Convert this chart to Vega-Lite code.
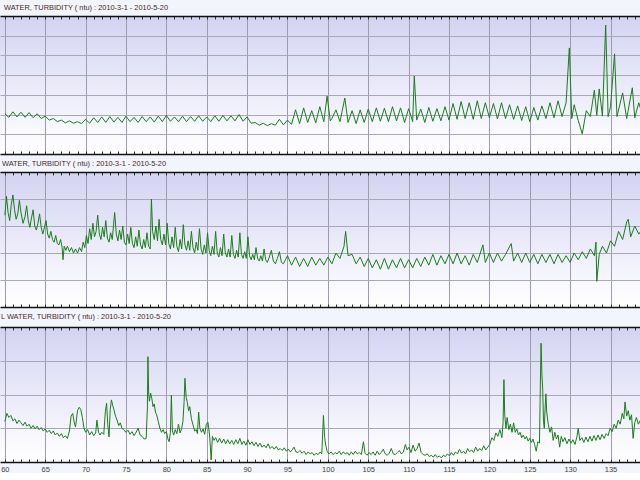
{
  "$schema": "https://vega.github.io/schema/vega-lite/v6.json",
  "background": "#f2f5fb",
  "padding": {"top": 4, "left": 0, "right": 0, "bottom": 0},
  "spacing": 5,
  "datasets": {
    "p1": [
      {"d":60,"v":1.02},{"d":60.5,"v":0.93},{"d":61,"v":1.07},{"d":61.5,"v":0.94},{"d":62,"v":1.06},{"d":62.5,"v":0.93},{"d":63,"v":1.05},{"d":63.5,"v":0.92},{"d":64,"v":1.02},{"d":64.5,"v":0.9},
      {"d":65,"v":0.96},{"d":65.5,"v":0.86},{"d":66,"v":0.9},{"d":66.5,"v":0.82},{"d":67,"v":0.86},{"d":67.5,"v":0.79},{"d":68,"v":0.84},{"d":68.5,"v":0.78},{"d":69,"v":0.82},{"d":69.5,"v":0.77},
      {"d":70,"v":0.88},{"d":70.5,"v":0.78},{"d":71,"v":0.92},{"d":71.5,"v":0.8},{"d":72,"v":0.94},{"d":72.5,"v":0.8},{"d":73,"v":0.95},{"d":73.5,"v":0.81},{"d":74,"v":0.93},{"d":74.5,"v":0.8},
      {"d":75,"v":0.96},{"d":75.5,"v":0.82},{"d":76,"v":0.93},{"d":76.5,"v":0.8},{"d":77,"v":0.95},{"d":77.5,"v":0.82},{"d":78,"v":0.94},{"d":78.5,"v":0.81},{"d":79,"v":0.96},{"d":79.5,"v":0.82},
      {"d":80,"v":0.98},{"d":80.5,"v":0.83},{"d":81,"v":0.94},{"d":81.5,"v":0.82},{"d":82,"v":0.96},{"d":82.5,"v":0.82},{"d":83,"v":0.95},{"d":83.5,"v":0.83},{"d":84,"v":0.97},{"d":84.5,"v":0.83},
      {"d":85,"v":0.94},{"d":85.5,"v":0.82},{"d":86,"v":0.97},{"d":86.5,"v":0.83},{"d":87,"v":0.98},{"d":87.5,"v":0.84},{"d":88,"v":0.97},{"d":88.5,"v":0.84},{"d":89,"v":1.0},{"d":89.5,"v":0.83},
      {"d":90,"v":0.94},{"d":90.5,"v":0.78},{"d":91,"v":0.8},{"d":91.5,"v":0.73},{"d":92,"v":0.78},{"d":92.5,"v":0.72},{"d":93,"v":0.77},{"d":93.5,"v":0.73},{"d":94,"v":0.88},{"d":94.5,"v":0.74},
      {"d":95,"v":0.86},{"d":95.5,"v":0.75},{"d":96,"v":1.12},{"d":96.5,"v":0.77},{"d":97,"v":1.17},{"d":97.5,"v":0.8},{"d":98,"v":1.1},{"d":98.5,"v":0.79},{"d":99,"v":1.2},{"d":99.5,"v":0.82},
      {"d":99.9,"v":1.47},{"d":100.3,"v":0.84},{"d":100.5,"v":0.9},{"d":101,"v":1.12},{"d":101.5,"v":0.82},{"d":102.1,"v":1.42},{"d":102.5,"v":0.8},{"d":103,"v":1.1},{"d":103.5,"v":0.77},{"d":104,"v":1.12},
      {"d":104.5,"v":0.8},{"d":105,"v":1.14},{"d":105.5,"v":0.82},{"d":106,"v":1.17},{"d":106.5,"v":0.83},{"d":107,"v":1.16},{"d":107.5,"v":0.82},{"d":108,"v":1.2},{"d":108.5,"v":0.84},{"d":109,"v":1.17},
      {"d":109.5,"v":0.8},{"d":110,"v":1.15},{"d":110.5,"v":0.82},{"d":110.7,"v":1.98},{"d":111,"v":0.86},{"d":111.5,"v":1.14},{"d":112,"v":0.8},{"d":112.5,"v":1.18},{"d":113,"v":0.83},{"d":113.5,"v":1.15},
      {"d":114,"v":0.84},{"d":114.5,"v":1.2},{"d":115,"v":0.86},{"d":115.5,"v":1.28},{"d":116,"v":0.88},{"d":116.5,"v":1.33},{"d":117,"v":0.9},{"d":117.5,"v":1.3},{"d":118,"v":0.88},{"d":118.5,"v":1.35},
      {"d":119,"v":0.9},{"d":119.5,"v":1.3},{"d":120,"v":0.92},{"d":120.5,"v":1.28},{"d":121,"v":0.89},{"d":121.5,"v":1.3},{"d":122,"v":0.9},{"d":122.5,"v":1.25},{"d":123,"v":0.88},{"d":123.5,"v":1.22},
      {"d":124,"v":0.85},{"d":124.5,"v":1.2},{"d":125,"v":0.82},{"d":125.5,"v":1.18},{"d":126,"v":0.86},{"d":126.5,"v":1.22},{"d":127,"v":0.9},{"d":127.5,"v":1.3},{"d":128,"v":0.92},{"d":128.5,"v":1.35},
      {"d":129,"v":0.95},{"d":129.5,"v":1.3},{"d":129.9,"v":2.69},{"d":130.2,"v":0.9},{"d":130.5,"v":1.25},{"d":131,"v":0.85},{"d":131.5,"v":0.51},{"d":132,"v":1.1},{"d":132.5,"v":0.95},{"d":133,"v":1.62},
      {"d":133.3,"v":0.98},{"d":133.6,"v":1.65},{"d":134,"v":0.96},{"d":134.4,"v":3.27},{"d":134.7,"v":0.95},{"d":135,"v":1.2},{"d":135.5,"v":2.54},{"d":135.8,"v":0.95},{"d":136.5,"v":1.55},{"d":137,"v":0.9},
      {"d":137.7,"v":1.68},{"d":138,"v":0.92},{"d":138.5,"v":1.3},{"d":139,"v":0.95}
    ],
    "p2": [
      {"d":60,"v":6.8},{"d":60.2,"v":8.2},{"d":60.4,"v":7.0},{"d":60.6,"v":6.4},{"d":60.8,"v":7.6},{"d":61,"v":8.3},{"d":61.2,"v":7.2},{"d":61.4,"v":6.5},{"d":61.6,"v":6.9},{"d":61.8,"v":7.9},
      {"d":62,"v":7.0},{"d":62.25,"v":6.2},{"d":62.5,"v":6.7},{"d":62.7,"v":7.5},{"d":62.9,"v":6.4},{"d":63.1,"v":5.9},{"d":63.3,"v":6.6},{"d":63.5,"v":7.2},{"d":63.7,"v":6.0},{"d":63.9,"v":5.7},
      {"d":64.1,"v":6.2},{"d":64.3,"v":6.9},{"d":64.5,"v":5.9},{"d":64.7,"v":5.4},{"d":64.9,"v":5.9},{"d":65.1,"v":6.4},{"d":65.3,"v":5.4},{"d":65.5,"v":5.1},{"d":65.7,"v":5.6},{"d":65.9,"v":5.0},
      {"d":66.1,"v":4.8},{"d":66.3,"v":5.3},{"d":66.5,"v":4.7},{"d":66.7,"v":4.6},{"d":66.9,"v":5.0},{"d":67.1,"v":4.4},{"d":67.2,"v":3.5},{"d":67.35,"v":4.5},{"d":67.55,"v":4.2},{"d":67.75,"v":4.5},
      {"d":68,"v":4.1},{"d":68.25,"v":4.4},{"d":68.5,"v":4.0},{"d":68.75,"v":4.3},{"d":69,"v":4.0},{"d":69.25,"v":4.4},{"d":69.5,"v":4.1},{"d":69.7,"v":4.8},{"d":69.9,"v":4.4},{"d":70.1,"v":5.3},
      {"d":70.3,"v":4.7},{"d":70.5,"v":5.8},{"d":70.7,"v":5.0},{"d":70.9,"v":6.2},{"d":71.1,"v":5.2},{"d":71.3,"v":5.6},{"d":71.5,"v":6.8},{"d":71.7,"v":5.4},{"d":71.9,"v":5.0},{"d":72.1,"v":5.9},
      {"d":72.3,"v":5.2},{"d":72.5,"v":6.4},{"d":72.7,"v":5.1},{"d":72.9,"v":4.8},{"d":73.1,"v":5.5},{"d":73.3,"v":5.0},{"d":73.6,"v":7.0},{"d":73.8,"v":5.4},{"d":74,"v":4.9},{"d":74.2,"v":5.7},
      {"d":74.4,"v":5.0},{"d":74.6,"v":6.0},{"d":74.8,"v":4.8},{"d":75,"v":4.6},{"d":75.2,"v":5.4},{"d":75.4,"v":4.7},{"d":75.6,"v":5.9},{"d":75.8,"v":4.7},{"d":76,"v":4.4},{"d":76.2,"v":5.2},
      {"d":76.4,"v":4.5},{"d":76.6,"v":5.7},{"d":76.8,"v":4.6},{"d":77,"v":4.3},{"d":77.2,"v":5.0},{"d":77.4,"v":4.4},{"d":77.6,"v":5.5},{"d":77.8,"v":4.5},{"d":78,"v":4.3},{"d":78.15,"v":8.0},
      {"d":78.3,"v":5.6},{"d":78.5,"v":5.0},{"d":78.7,"v":6.0},{"d":78.9,"v":4.9},{"d":79.1,"v":6.5},{"d":79.3,"v":5.0},{"d":79.5,"v":4.6},{"d":79.7,"v":5.4},{"d":79.9,"v":4.6},{"d":80.1,"v":6.2},
      {"d":80.3,"v":4.7},{"d":80.5,"v":4.3},{"d":80.7,"v":5.2},{"d":80.9,"v":4.4},{"d":81.1,"v":5.9},{"d":81.3,"v":4.5},{"d":81.5,"v":4.1},{"d":81.7,"v":5.0},{"d":81.9,"v":4.3},{"d":82.1,"v":6.1},
      {"d":82.3,"v":4.6},{"d":82.5,"v":4.2},{"d":82.7,"v":4.9},{"d":82.9,"v":4.2},{"d":83.1,"v":5.6},{"d":83.3,"v":4.4},{"d":83.5,"v":4.0},{"d":83.7,"v":4.8},{"d":83.9,"v":4.2},{"d":84.1,"v":5.8},
      {"d":84.3,"v":4.3},{"d":84.5,"v":3.9},{"d":84.7,"v":4.6},{"d":84.9,"v":4.0},{"d":85.1,"v":5.5},{"d":85.3,"v":4.2},{"d":85.5,"v":3.8},{"d":85.7,"v":4.5},{"d":85.9,"v":3.9},{"d":86.1,"v":5.6},
      {"d":86.3,"v":4.0},{"d":86.5,"v":3.7},{"d":86.7,"v":4.4},{"d":86.9,"v":3.8},{"d":87.1,"v":5.4},{"d":87.3,"v":4.0},{"d":87.5,"v":3.7},{"d":87.7,"v":4.3},{"d":87.9,"v":3.7},{"d":88.1,"v":5.3},
      {"d":88.3,"v":3.9},{"d":88.5,"v":3.6},{"d":88.7,"v":4.2},{"d":88.9,"v":3.7},{"d":89.1,"v":5.5},{"d":89.3,"v":3.9},{"d":89.5,"v":3.6},{"d":89.7,"v":4.1},{"d":89.9,"v":3.6},{"d":90.1,"v":5.2},
      {"d":90.3,"v":3.8},{"d":90.5,"v":3.5},{"d":90.7,"v":3.9},{"d":90.9,"v":3.5},{"d":91.1,"v":4.4},{"d":91.3,"v":3.6},{"d":91.5,"v":3.4},{"d":91.7,"v":3.8},{"d":91.9,"v":3.4},{"d":92.1,"v":4.3},
      {"d":92.3,"v":3.5},{"d":92.5,"v":3.3},{"d":92.75,"v":3.7},{"d":93,"v":4.2},{"d":93.25,"v":3.4},{"d":93.5,"v":3.2},{"d":93.75,"v":3.6},{"d":94,"v":4.1},{"d":94.25,"v":3.3},{"d":94.5,"v":3.2},
      {"d":94.75,"v":3.5},{"d":95,"v":3.8},{"d":95.5,"v":3.1},{"d":96,"v":3.7},{"d":96.5,"v":3.0},{"d":97,"v":3.6},{"d":97.5,"v":3.0},{"d":98,"v":3.7},
      {"d":98.5,"v":3.1},{"d":99,"v":3.6},{"d":99.5,"v":3.1},{"d":100,"v":3.7},{"d":100.5,"v":3.2},{"d":101,"v":4.0},{"d":101.5,"v":3.6},{"d":102,"v":4.5},{"d":102.2,"v":5.6},{"d":102.5,"v":3.8},
      {"d":103,"v":3.9},{"d":103.5,"v":3.2},{"d":104,"v":3.7},{"d":104.5,"v":3.0},{"d":105,"v":3.6},{"d":105.5,"v":2.9},{"d":106,"v":3.5},{"d":106.5,"v":2.8},{"d":107,"v":3.6},{"d":107.5,"v":2.8},
      {"d":108,"v":3.5},{"d":108.5,"v":2.9},{"d":109,"v":3.6},{"d":109.5,"v":2.9},{"d":110,"v":3.5},{"d":110.5,"v":2.9},{"d":111,"v":3.6},{"d":111.5,"v":3.0},{"d":112,"v":3.7},{"d":112.5,"v":3.1},
      {"d":113,"v":3.9},{"d":113.5,"v":3.1},{"d":114,"v":3.8},{"d":114.5,"v":3.2},{"d":115,"v":3.9},{"d":115.5,"v":3.2},{"d":116,"v":4.0},{"d":116.5,"v":3.2},{"d":117,"v":3.8},{"d":117.5,"v":3.1},
      {"d":118,"v":3.9},{"d":118.5,"v":3.3},{"d":119.2,"v":4.6},{"d":119.5,"v":3.3},{"d":120,"v":4.0},{"d":120.5,"v":3.3},{"d":121,"v":4.0},{"d":121.5,"v":3.4},{"d":122,"v":3.9},{"d":122.7,"v":4.7},
      {"d":123,"v":3.4},{"d":123.5,"v":4.0},{"d":124,"v":3.3},{"d":124.5,"v":4.0},{"d":125,"v":3.3},{"d":125.5,"v":3.9},{"d":126,"v":3.2},{"d":126.5,"v":3.9},{"d":127,"v":3.3},{"d":127.5,"v":3.9},
      {"d":128,"v":3.2},{"d":128.5,"v":3.9},{"d":129,"v":3.3},{"d":129.5,"v":3.8},{"d":130,"v":3.3},{"d":130.5,"v":4.0},{"d":131,"v":3.5},{"d":131.5,"v":4.1},{"d":132,"v":3.6},{"d":132.5,"v":4.3},
      {"d":133,"v":3.8},{"d":133.2,"v":4.8},{"d":133.3,"v":1.9},{"d":133.6,"v":3.9},{"d":134,"v":4.5},{"d":134.5,"v":4.0},{"d":135,"v":4.9},{"d":135.5,"v":4.5},{"d":136,"v":5.6},{"d":136.5,"v":5.0},
      {"d":137,"v":6.3},{"d":137.2,"v":6.5},{"d":137.5,"v":5.2},{"d":138,"v":6.0},{"d":138.5,"v":5.4},{"d":139,"v":5.8}
    ],
    "p3": [
      {"d":60,"v":6.0},{"d":60.25,"v":7.2},{"d":60.5,"v":6.6},{"d":60.75,"v":6.9},{"d":61,"v":6.1},{"d":61.25,"v":6.4},{"d":61.5,"v":5.7},{"d":61.75,"v":6.2},{"d":62,"v":5.8},{"d":62.25,"v":5.4},
      {"d":62.5,"v":5.9},{"d":62.75,"v":5.3},{"d":63,"v":5.6},{"d":63.25,"v":5.0},{"d":63.5,"v":5.4},{"d":63.75,"v":4.9},{"d":64,"v":5.3},{"d":64.25,"v":4.8},{"d":64.5,"v":5.1},{"d":64.75,"v":4.6},
      {"d":65,"v":4.9},{"d":65.25,"v":4.4},{"d":65.5,"v":4.7},{"d":65.75,"v":4.2},{"d":66,"v":4.6},{"d":66.25,"v":4.0},{"d":66.5,"v":4.3},{"d":66.75,"v":3.8},{"d":67,"v":4.2},{"d":67.25,"v":3.6},
      {"d":67.5,"v":3.9},{"d":67.75,"v":3.5},{"d":68,"v":4.6},{"d":68.2,"v":6.8},{"d":68.4,"v":7.2},{"d":68.6,"v":5.8},{"d":68.75,"v":5.2},{"d":69,"v":7.6},{"d":69.2,"v":8.1},{"d":69.4,"v":7.8},
      {"d":69.6,"v":6.6},{"d":69.8,"v":5.0},{"d":70,"v":4.4},{"d":70.25,"v":4.8},{"d":70.5,"v":4.0},{"d":70.75,"v":4.5},{"d":71,"v":3.9},{"d":71.25,"v":4.3},{"d":71.4,"v":6.2},{"d":71.6,"v":4.4},
      {"d":71.8,"v":4.0},{"d":72,"v":4.4},{"d":72.25,"v":4.1},{"d":72.45,"v":7.5},{"d":72.6,"v":8.7},{"d":72.75,"v":5.5},{"d":72.9,"v":3.7},{"d":73.05,"v":7.8},{"d":73.2,"v":9.2},{"d":73.35,"v":8.4},
      {"d":73.5,"v":7.8},{"d":73.7,"v":6.8},{"d":73.9,"v":6.2},{"d":74.1,"v":5.4},{"d":74.3,"v":5.8},{"d":74.5,"v":5.0},{"d":74.75,"v":4.8},{"d":75,"v":4.4},{"d":75.25,"v":4.7},{"d":75.5,"v":4.1},
      {"d":75.75,"v":4.5},{"d":76,"v":3.9},{"d":76.25,"v":4.4},{"d":76.5,"v":5.0},{"d":76.75,"v":4.0},{"d":77,"v":3.8},{"d":77.25,"v":3.4},{"d":77.5,"v":3.5},{"d":77.65,"v":8.0},{"d":77.72,"v":15.6},
      {"d":77.8,"v":10.5},{"d":77.9,"v":9.0},{"d":78.05,"v":10.2},{"d":78.2,"v":9.4},{"d":78.35,"v":8.2},{"d":78.5,"v":8.6},{"d":78.65,"v":7.4},{"d":78.8,"v":7.0},{"d":79,"v":6.0},{"d":79.2,"v":5.0},
      {"d":79.4,"v":4.4},{"d":79.6,"v":4.8},{"d":79.8,"v":4.2},{"d":80,"v":4.5},{"d":80.2,"v":3.4},{"d":80.35,"v":3.0},{"d":80.5,"v":4.4},{"d":80.62,"v":9.9},{"d":80.75,"v":4.6},{"d":80.9,"v":4.0},
      {"d":81.1,"v":4.8},{"d":81.3,"v":4.2},{"d":81.5,"v":5.6},{"d":81.7,"v":4.3},{"d":81.9,"v":5.0},{"d":82.05,"v":6.0},{"d":82.2,"v":9.0},{"d":82.3,"v":12.4},{"d":82.45,"v":9.6},{"d":82.6,"v":8.8},
      {"d":82.75,"v":7.6},{"d":82.9,"v":8.2},{"d":83.1,"v":6.4},{"d":83.3,"v":5.5},{"d":83.5,"v":4.6},{"d":83.7,"v":4.8},{"d":83.85,"v":4.2},{"d":84,"v":7.4},{"d":84.15,"v":5.0},{"d":84.35,"v":4.4},
      {"d":84.55,"v":4.9},{"d":84.75,"v":4.1},{"d":84.95,"v":5.6},{"d":85.15,"v":5.9},{"d":85.35,"v":4.0},{"d":85.55,"v":0.3},{"d":85.7,"v":3.8},{"d":85.9,"v":3.2},{"d":86.1,"v":3.6},{"d":86.35,"v":2.9},
      {"d":86.6,"v":3.5},{"d":86.85,"v":2.8},{"d":87.1,"v":3.4},{"d":87.35,"v":2.7},{"d":87.6,"v":3.3},{"d":87.85,"v":2.7},{"d":88.1,"v":3.2},{"d":88.35,"v":2.6},{"d":88.6,"v":3.3},{"d":88.85,"v":2.7},
      {"d":89.1,"v":3.5},{"d":89.35,"v":2.6},{"d":89.6,"v":3.1},{"d":89.85,"v":2.5},{"d":90.1,"v":3.3},{"d":90.35,"v":2.6},{"d":90.6,"v":3.0},{"d":90.85,"v":2.4},{"d":91.1,"v":2.9},{"d":91.35,"v":2.3},
      {"d":91.6,"v":2.8},{"d":91.85,"v":2.2},{"d":92.1,"v":2.5},{"d":92.35,"v":2.1},{"d":92.6,"v":2.7},{"d":92.85,"v":2.0},{"d":93.1,"v":2.3},{"d":93.35,"v":1.9},{"d":93.6,"v":2.3},{"d":93.85,"v":1.8},
      {"d":94.1,"v":2.0},{"d":94.35,"v":1.7},{"d":94.6,"v":2.1},{"d":94.85,"v":1.6},{"d":95.1,"v":1.9},{"d":95.35,"v":1.5},{"d":95.6,"v":1.8},{"d":95.8,"v":2.2},{"d":96.05,"v":1.5},{"d":96.3,"v":1.4},
      {"d":96.55,"v":1.7},{"d":96.8,"v":1.3},{"d":97.05,"v":1.6},{"d":97.3,"v":1.1},{"d":97.55,"v":1.5},{"d":97.8,"v":1.2},{"d":98.05,"v":1.4},{"d":98.3,"v":1.0},{"d":98.55,"v":1.3},{"d":98.8,"v":1.1},
      {"d":99.05,"v":1.5},{"d":99.25,"v":1.2},{"d":99.45,"v":6.9},{"d":99.6,"v":3.6},{"d":99.75,"v":2.4},{"d":99.9,"v":1.6},{"d":100.15,"v":1.2},{"d":100.4,"v":1.5},{"d":100.65,"v":1.1},{"d":100.9,"v":1.4},
      {"d":101.15,"v":1.2},{"d":101.4,"v":1.6},{"d":101.65,"v":1.1},{"d":101.9,"v":1.5},{"d":102.15,"v":1.2},{"d":102.4,"v":1.4},{"d":102.65,"v":1.0},{"d":102.9,"v":1.5},{"d":103.15,"v":1.1},{"d":103.4,"v":1.6},
      {"d":103.65,"v":1.2},{"d":103.9,"v":1.4},{"d":104.15,"v":1.1},{"d":104.4,"v":3.0},{"d":104.6,"v":1.3},{"d":104.85,"v":1.0},{"d":105.1,"v":1.4},{"d":105.35,"v":1.1},{"d":105.6,"v":1.5},{"d":105.85,"v":1.0},
      {"d":106.1,"v":1.6},{"d":106.35,"v":1.1},{"d":106.6,"v":1.4},{"d":106.85,"v":1.9},{"d":107.1,"v":1.2},{"d":107.35,"v":1.0},{"d":107.6,"v":1.3},{"d":107.85,"v":2.0},{"d":108.1,"v":1.2},{"d":108.35,"v":1.1},
      {"d":108.6,"v":1.4},{"d":108.85,"v":1.7},{"d":109.1,"v":1.2},{"d":109.35,"v":1.5},{"d":109.6,"v":2.6},{"d":109.8,"v":1.8},{"d":110.05,"v":2.2},{"d":110.3,"v":1.4},{"d":110.55,"v":2.5},{"d":110.8,"v":1.6},
      {"d":111.05,"v":2.0},{"d":111.3,"v":2.8},{"d":111.55,"v":1.4},{"d":111.8,"v":1.1},{"d":112.05,"v":1.0},{"d":112.3,"v":1.2},{"d":112.55,"v":0.8},{"d":112.8,"v":1.0},{"d":113.05,"v":0.7},{"d":113.3,"v":1.1},
      {"d":113.55,"v":0.7},{"d":113.8,"v":0.9},{"d":114.05,"v":0.6},{"d":114.3,"v":1.0},{"d":114.55,"v":0.8},{"d":114.8,"v":1.2},{"d":115.05,"v":0.9},{"d":115.3,"v":1.4},{"d":115.55,"v":1.0},{"d":115.8,"v":1.5},
      {"d":116.05,"v":1.2},{"d":116.3,"v":1.9},{"d":116.55,"v":1.3},{"d":116.8,"v":1.6},{"d":117.05,"v":1.2},{"d":117.3,"v":2.0},{"d":117.55,"v":1.5},{"d":117.8,"v":1.8},{"d":118.05,"v":1.4},{"d":118.3,"v":2.2},
      {"d":118.55,"v":1.6},{"d":118.8,"v":2.0},{"d":119.05,"v":1.7},{"d":119.3,"v":2.4},{"d":119.55,"v":1.8},{"d":119.8,"v":2.2},{"d":120.05,"v":2.6},{"d":120.3,"v":3.6},{"d":120.55,"v":3.2},{"d":120.8,"v":4.3},
      {"d":121.05,"v":3.8},{"d":121.3,"v":4.8},{"d":121.55,"v":3.6},{"d":121.7,"v":6.0},{"d":121.8,"v":12.2},{"d":121.9,"v":7.0},{"d":122.05,"v":5.0},{"d":122.2,"v":6.6},{"d":122.4,"v":4.8},{"d":122.6,"v":5.6},
      {"d":122.8,"v":4.4},{"d":123,"v":5.8},{"d":123.2,"v":4.4},{"d":123.4,"v":4.9},{"d":123.6,"v":4.0},{"d":123.8,"v":4.4},{"d":124,"v":3.6},{"d":124.2,"v":4.0},{"d":124.4,"v":3.4},{"d":124.6,"v":3.8},
      {"d":124.8,"v":3.1},{"d":125,"v":3.5},{"d":125.2,"v":2.9},{"d":125.4,"v":3.4},{"d":125.6,"v":2.6},{"d":125.8,"v":1.6},{"d":126,"v":3.0},{"d":126.2,"v":2.8},{"d":126.32,"v":12.0},{"d":126.4,"v":17.6},
      {"d":126.5,"v":13.0},{"d":126.6,"v":10.8},{"d":126.7,"v":6.0},{"d":126.8,"v":5.0},{"d":126.9,"v":8.0},{"d":127,"v":10.1},{"d":127.1,"v":7.4},{"d":127.3,"v":5.5},{"d":127.5,"v":4.4},{"d":127.7,"v":5.2},
      {"d":127.9,"v":3.2},{"d":128.1,"v":4.4},{"d":128.3,"v":3.4},{"d":128.5,"v":4.0},{"d":128.7,"v":2.2},{"d":128.9,"v":3.8},{"d":129.1,"v":3.0},{"d":129.35,"v":3.6},{"d":129.6,"v":2.7},{"d":129.85,"v":3.4},
      {"d":130.1,"v":2.8},{"d":130.35,"v":3.3},{"d":130.6,"v":2.6},{"d":130.85,"v":3.8},{"d":131,"v":5.0},{"d":131.2,"v":3.2},{"d":131.45,"v":3.6},{"d":131.7,"v":2.9},{"d":131.95,"v":3.7},{"d":132.2,"v":3.0},
      {"d":132.45,"v":3.8},{"d":132.7,"v":3.1},{"d":132.95,"v":3.9},{"d":133.2,"v":3.2},{"d":133.45,"v":4.0},{"d":133.7,"v":3.3},{"d":133.95,"v":4.1},{"d":134.2,"v":3.5},{"d":134.45,"v":4.2},{"d":134.7,"v":3.9},
      {"d":134.95,"v":5.0},{"d":135.2,"v":4.5},{"d":135.45,"v":5.6},{"d":135.7,"v":5.0},{"d":135.95,"v":6.2},{"d":136.2,"v":5.6},{"d":136.45,"v":7.2},{"d":136.65,"v":6.4},{"d":136.8,"v":8.9},{"d":137,"v":6.8},
      {"d":137.2,"v":7.6},{"d":137.4,"v":6.2},{"d":137.6,"v":7.0},{"d":137.8,"v":3.5},{"d":138,"v":5.8},{"d":138.2,"v":6.6},{"d":138.45,"v":5.6},{"d":138.7,"v":6.2},{"d":139,"v":5.9}
    ]
  },
  "config": {
    "font": "Liberation Sans",
    "view": {"stroke": null, "fill": {"gradient": "linear", "x1": 0, "y1": 0, "x2": 0, "y2": 1, "stops": [{"offset": 0, "color": "#d3d3f2"}, {"offset": 0.75, "color": "#f5f5fd"}, {"offset": 1, "color": "#ffffff"}]}},
    "axis": {"minExtent": 0, "title": null, "labelFont": "Liberation Sans"},
    "title": {"anchor": "start", "font": "Liberation Sans", "fontSize": 7.4, "fontWeight": "normal", "color": "#4a2626", "offset": 4},
    "line": {"color": "#1a7d1a", "strokeWidth": 1, "clip": true}
  },
  "vconcat": [
    {
      "width": 640, "height": 138,
      "title": {"text": "WATER, TURBIDITY ( ntu) : 2010-3-1  - 2010-5-20", "dx": 4},
      "data": {"name": "p1"},
      "encoding": {
        "x": {"field": "d", "type": "quantitative", "scale": {"domain": [59.4, 138.65], "nice": false, "zero": false}},
        "y": {"field": "v", "type": "quantitative", "scale": {"domain": [0, 3.5], "nice": false, "zero": false}, "axis": {"values": [0.5,1,1.5,2,2.5,3], "labels": false, "ticks": false, "domain": false, "grid": true, "gridColor": "#a8a8b8", "gridWidth": 1}}
      },
      "resolve": {"axis": {"x": "independent"}},
      "layer": [
        {"mark": {"type": "line", "strokeOpacity": 0},
         "encoding": {"x": {"field": "d", "type": "quantitative",
           "axis": {"orient": "top", "values": [60,61,62,63,64,65,66,67,68,69,70,71,72,73,74,75,76,77,78,79,80,81,82,83,84,85,86,87,88,89,90,91,92,93,94,95,96,97,98,99,100,101,102,103,104,105,106,107,108,109,110,111,112,113,114,115,116,117,118,119,120,121,122,123,124,125,126,127,128,129,130,131,132,133,134,135,136,137,138], "labels": false, "grid": false, "tickSize": -3, "tickColor": "#333", "domainColor": "#111", "domainWidth": 1.5}}}},
        {"mark": {"type": "line", "strokeOpacity": 0},
         "encoding": {"x": {"field": "d", "type": "quantitative",
           "axis": {"orient": "bottom", "values": [60,61,62,63,64,65,66,67,68,69,70,71,72,73,74,75,76,77,78,79,80,81,82,83,84,85,86,87,88,89,90,91,92,93,94,95,96,97,98,99,100,101,102,103,104,105,106,107,108,109,110,111,112,113,114,115,116,117,118,119,120,121,122,123,124,125,126,127,128,129,130,131,132,133,134,135,136,137,138], "labels": false, "grid": false, "tickSize": -3, "tickColor": "#333", "domainColor": "#111", "domainWidth": 1.5}}}},
        {"mark": {"type": "line"},
         "encoding": {
           "x": {"field": "d", "type": "quantitative", "axis": {"orient": "bottom", "values": [60,65,70,75,80,85,90,95,100,105,110,115,120,125,130,135], "labels": false, "ticks": false, "domain": false, "grid": true, "gridColor": "#9c9cae", "gridWidth": 1}}
         }}
      ]
    },
    {
      "width": 640, "height": 135,
      "title": {"text": "WATER, TURBIDITY ( ntu) : 2010-3-1  - 2010-5-20", "dx": 2},
      "data": {"name": "p2"},
      "encoding": {
        "x": {"field": "d", "type": "quantitative", "scale": {"domain": [59.4, 138.65], "nice": false, "zero": false}},
        "y": {"field": "v", "type": "quantitative", "scale": {"domain": [0, 10], "nice": false, "zero": false}, "axis": {"values": [2,4,6,8], "labels": false, "ticks": false, "domain": false, "grid": true, "gridColor": "#a8a8b8", "gridWidth": 1}}
      },
      "resolve": {"axis": {"x": "independent"}},
      "layer": [
        {"mark": {"type": "line", "strokeOpacity": 0},
         "encoding": {"x": {"field": "d", "type": "quantitative",
           "axis": {"orient": "top", "values": [60,61,62,63,64,65,66,67,68,69,70,71,72,73,74,75,76,77,78,79,80,81,82,83,84,85,86,87,88,89,90,91,92,93,94,95,96,97,98,99,100,101,102,103,104,105,106,107,108,109,110,111,112,113,114,115,116,117,118,119,120,121,122,123,124,125,126,127,128,129,130,131,132,133,134,135,136,137,138], "labels": false, "grid": false, "tickSize": -3, "tickColor": "#333", "domainColor": "#111", "domainWidth": 1.5}}}},
        {"mark": {"type": "line", "strokeOpacity": 0},
         "encoding": {"x": {"field": "d", "type": "quantitative",
           "axis": {"orient": "bottom", "values": [60,61,62,63,64,65,66,67,68,69,70,71,72,73,74,75,76,77,78,79,80,81,82,83,84,85,86,87,88,89,90,91,92,93,94,95,96,97,98,99,100,101,102,103,104,105,106,107,108,109,110,111,112,113,114,115,116,117,118,119,120,121,122,123,124,125,126,127,128,129,130,131,132,133,134,135,136,137,138], "labels": false, "grid": false, "tickSize": -3, "tickColor": "#333", "domainColor": "#111", "domainWidth": 1.5}}}},
        {"mark": {"type": "line"},
         "encoding": {
           "x": {"field": "d", "type": "quantitative", "axis": {"orient": "bottom", "values": [60,65,70,75,80,85,90,95,100,105,110,115,120,125,130,135], "labels": false, "ticks": false, "domain": false, "grid": true, "gridColor": "#9c9cae", "gridWidth": 1}}
         }}
      ]
    },
    {
      "width": 640, "height": 135,
      "title": {"text": "L WATER, TURBIDITY ( ntu) : 2010-3-1  - 2010-5-20", "dx": 1, "offset": 6},
      "data": {"name": "p3"},
      "encoding": {
        "x": {"field": "d", "type": "quantitative", "scale": {"domain": [59.4, 138.65], "nice": false, "zero": false}},
        "y": {"field": "v", "type": "quantitative", "scale": {"domain": [0, 20], "nice": false, "zero": false}, "axis": {"values": [5,10,15], "labels": false, "ticks": false, "domain": false, "grid": true, "gridColor": "#a8a8b8", "gridWidth": 1}}
      },
      "resolve": {"axis": {"x": "independent"}},
      "layer": [
        {"mark": {"type": "line", "strokeOpacity": 0},
         "encoding": {"x": {"field": "d", "type": "quantitative",
           "axis": {"orient": "top", "values": [60,61,62,63,64,65,66,67,68,69,70,71,72,73,74,75,76,77,78,79,80,81,82,83,84,85,86,87,88,89,90,91,92,93,94,95,96,97,98,99,100,101,102,103,104,105,106,107,108,109,110,111,112,113,114,115,116,117,118,119,120,121,122,123,124,125,126,127,128,129,130,131,132,133,134,135,136,137,138], "labels": false, "grid": false, "tickSize": -3, "tickColor": "#333", "domainColor": "#111", "domainWidth": 1.5}}}},
        {"mark": {"type": "line", "strokeOpacity": 0},
         "encoding": {"x": {"field": "d", "type": "quantitative",
           "axis": {"orient": "bottom", "values": [60,61,62,63,64,65,66,67,68,69,70,71,72,73,74,75,76,77,78,79,80,81,82,83,84,85,86,87,88,89,90,91,92,93,94,95,96,97,98,99,100,101,102,103,104,105,106,107,108,109,110,111,112,113,114,115,116,117,118,119,120,121,122,123,124,125,126,127,128,129,130,131,132,133,134,135,136,137,138], "labels": false, "grid": false, "tickSize": -3, "tickColor": "#333", "domainColor": "#111", "domainWidth": 1.5}}}},
        {"mark": {"type": "line"},
         "encoding": {
           "x": {"field": "d", "type": "quantitative", "axis": {"orient": "bottom", "values": [60,65,70,75,80,85,90,95,100,105,110,115,120,125,130,135], "labels": true, "labelFont": "Liberation Sans", "labelFontSize": 7.5, "labelColor": "#444", "labelPadding": 3, "ticks": false, "domain": false, "grid": true, "gridColor": "#9c9cae", "gridWidth": 1}}
         }}
      ]
    }
  ]
}
